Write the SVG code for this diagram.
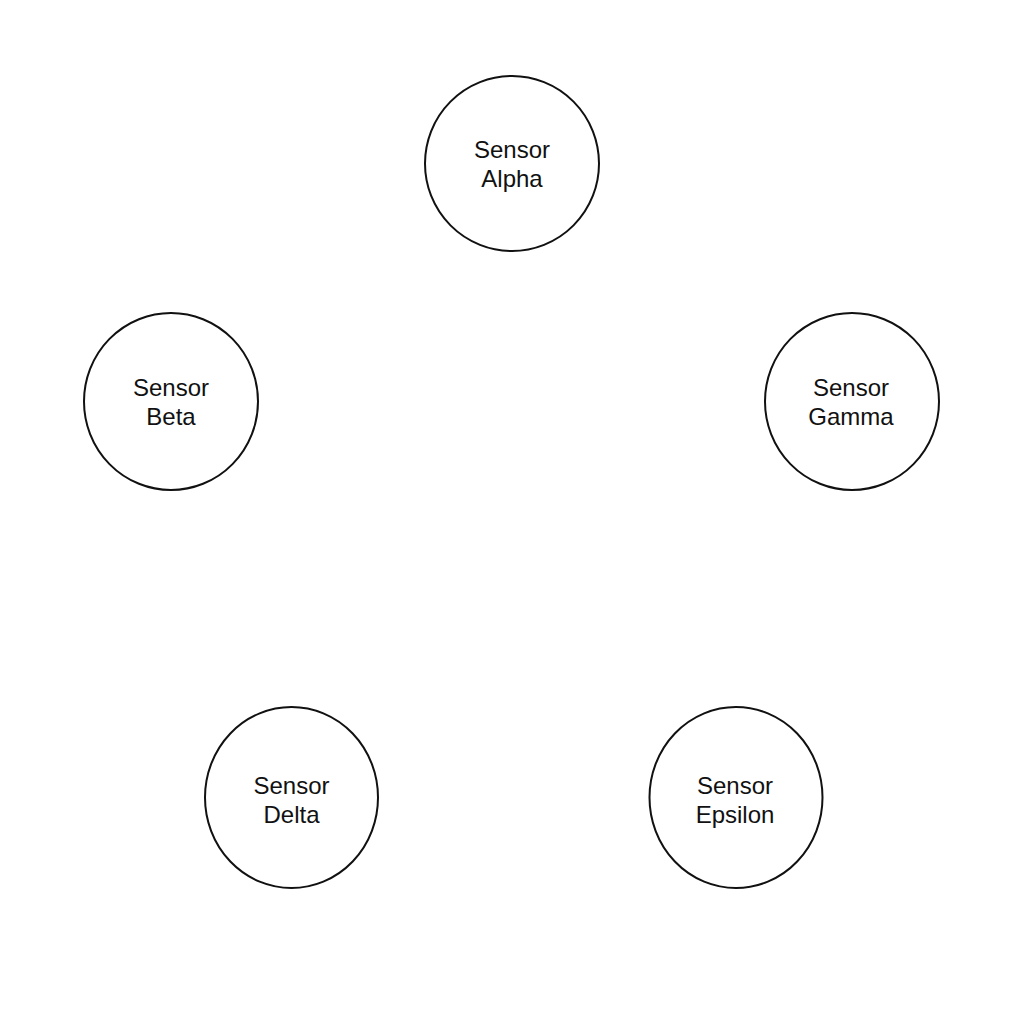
<svg xmlns="http://www.w3.org/2000/svg" width="1024" height="1024" viewBox="0 0 1024 1024">
<style>
.node ellipse{fill:#ffffff;stroke:#111111;stroke-width:2}
.node text{font-family:"Liberation Sans",Arial,sans-serif;font-size:24px;fill:#111111;text-anchor:middle}
</style>
<rect width="1024" height="1024" fill="#ffffff"/>
<g id="connectors"></g>
<g id="alpha" class="node"><ellipse cx="512" cy="163.5" rx="87" ry="87.5"/><text x="512" y="158">Sensor</text><text x="512" y="187">Alpha</text></g>
<g id="beta" class="node"><ellipse cx="171" cy="401.5" rx="87" ry="88.5"/><text x="171" y="396">Sensor</text><text x="171" y="425">Beta</text></g>
<g id="gamma" class="node"><ellipse cx="852" cy="401.5" rx="87" ry="88.5"/><text x="851" y="396">Sensor</text><text x="851" y="425">Gamma</text></g>
<g id="delta" class="node"><ellipse cx="291.5" cy="797.5" rx="86.5" ry="90.5"/><text x="291.5" y="794">Sensor</text><text x="291.5" y="823">Delta</text></g>
<g id="epsilon" class="node"><ellipse cx="736" cy="797.5" rx="86.5" ry="90.5"/><text x="735" y="794">Sensor</text><text x="735" y="823">Epsilon</text></g>
</svg>
